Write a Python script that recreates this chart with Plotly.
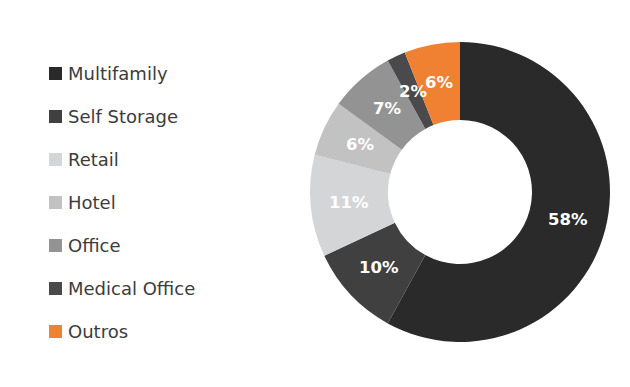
import math
import plotly.graph_objects as go

categories = ["Multifamily", "Self Storage", "Retail", "Hotel", "Office", "Medical Office", "Outros"]
values = [58, 10, 11, 6, 7, 2, 6]
colors = ["#2a2a2a", "#404040", "#d3d5d6", "#c2c2c2", "#939393", "#4a4a4c", "#f08132"]

W, H = 630, 387
# pie geometry (pixels)
CX, CY, R = 460, 192, 150
HOLE = 0.48

fig = go.Figure()
fig.add_trace(go.Pie(
    labels=categories,
    values=values,
    sort=False,
    direction="clockwise",
    rotation=0,
    hole=HOLE,
    marker=dict(colors=colors, line=dict(width=0)),
    textinfo="none",
    showlegend=False,
    domain=dict(x=[(CX - R) / W, (CX + R) / W], y=[(H - CY - R) / H, (H - CY + R) / H]),
))

# slice labels, placed at the middle of the ring at each slice's mid-angle
total = sum(values)
r_mid = R * (1 + HOLE) / 2
cum = 0
for v in values:
    frac = (cum + v / 2) / total
    cum += v
    th = 2 * math.pi * frac
    px = CX + r_mid * math.sin(th)
    py = CY - r_mid * math.cos(th)
    fig.add_annotation(xref="paper", yref="paper", x=px / W, y=(H - py) / H,
                       text=f"{v}%", showarrow=False, xanchor="center", yanchor="middle",
                       font=dict(family="DejaVu Sans", size=16.5, color="white", weight="bold"))

# manual legend built from the category list
leg_x0 = 49
leg_y0 = 73.5
leg_dy = 43
for i, (cat, col) in enumerate(zip(categories, colors)):
    yc = leg_y0 + i * leg_dy
    fig.add_shape(type="rect", xref="paper", yref="paper",
                  x0=leg_x0 / W, x1=(leg_x0 + 13) / W,
                  y0=(H - yc - 6.5) / H, y1=(H - yc + 6.5) / H,
                  fillcolor=col, line=dict(width=0))
    fig.add_annotation(xref="paper", yref="paper", x=(leg_x0 + 17) / W, y=(H - yc) / H,
                       text=cat, showarrow=False, xanchor="left", yanchor="middle",
                       font=dict(family="DejaVu Sans", size=18, color="#3c3c3c"))

fig.update_layout(
    width=W, height=H,
    margin=dict(l=0, r=0, t=0, b=0),
    paper_bgcolor="white",
    plot_bgcolor="white",
)

fig.write_html("out.html", config={"displayModeBar": False},
               post_script="document.body.style.margin='0';")
